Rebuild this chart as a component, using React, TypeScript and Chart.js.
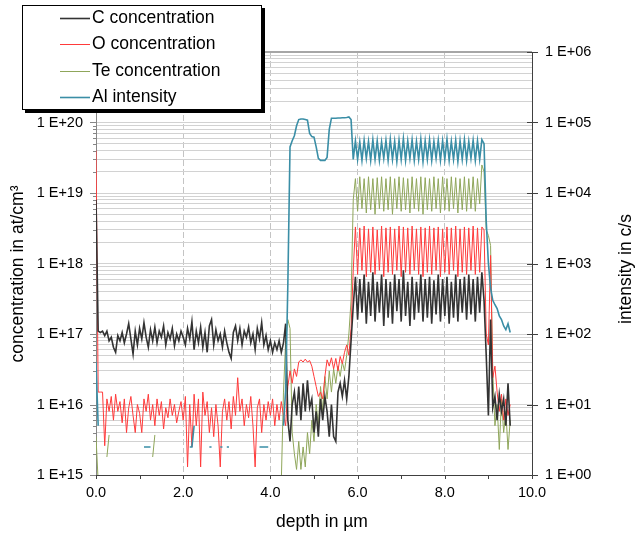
import React, { useEffect, useRef } from "react";
import { Chart, registerables } from "chart.js";

Chart.register(...registerables);

const FONT = "'Liberation Sans', Arial, Helvetica, sans-serif";

// depth in µm
const DEPTH = [
  0, 0.05, 0.1, 0.15, 0.2, 0.25, 0.3, 0.35, 0.4, 0.45,
  0.5, 0.55, 0.6, 0.65, 0.7, 0.75, 0.8, 0.85, 0.9, 0.95,
  1.0, 1.05, 1.1, 1.15, 1.2, 1.25, 1.3, 1.35, 1.4, 1.45,
  1.5, 1.55, 1.6, 1.65, 1.7, 1.75, 1.8, 1.85, 1.9, 1.95,
  2.0, 2.05, 2.1, 2.15, 2.2, 2.25, 2.3, 2.35, 2.4, 2.45,
  2.5, 2.55, 2.6, 2.65, 2.7, 2.75, 2.8, 2.85, 2.9, 2.95,
  3.0, 3.05, 3.1, 3.15, 3.2, 3.25, 3.3, 3.35, 3.4, 3.45,
  3.5, 3.55, 3.6, 3.65, 3.7, 3.75, 3.8, 3.85, 3.9, 3.95,
  4.0, 4.05, 4.1, 4.15, 4.2, 4.25, 4.3, 4.35, 4.4, 4.45,
  4.5, 4.55, 4.6, 4.65, 4.7, 4.75, 4.8, 4.85, 4.9, 4.95,
  5.0, 5.05, 5.1, 5.15, 5.2, 5.25, 5.3, 5.35, 5.4, 5.45,
  5.5, 5.55, 5.6, 5.65, 5.7, 5.75, 5.8, 5.85, 5.9, 5.95,
  6.0, 6.05, 6.1, 6.15, 6.2, 6.25, 6.3, 6.35, 6.4, 6.45,
  6.5, 6.55, 6.6, 6.65, 6.7, 6.75, 6.8, 6.85, 6.9, 6.95,
  7.0, 7.05, 7.1, 7.15, 7.2, 7.25, 7.3, 7.35, 7.4, 7.45,
  7.5, 7.55, 7.6, 7.65, 7.7, 7.75, 7.8, 7.85, 7.9, 7.95,
  8.0, 8.05, 8.1, 8.15, 8.2, 8.25, 8.3, 8.35, 8.4, 8.45,
  8.5, 8.55, 8.6, 8.65, 8.7, 8.75, 8.8, 8.85, 8.9, 8.95,
  9.0, 9.05, 9.1, 9.15, 9.2, 9.25, 9.3, 9.35, 9.4, 9.45,
  9.5,
];

// C concentration (at/cm³)
const C_CONC = [
  8e18, 1.1e17, 1.05e17, 1.1e17, 9.5e16, 1.1e17, 8.0e16, 9.0e16, 6.5e16, 5.5e16,
  9.5e16, 8.0e16, 1.05e17, 7.5e16, 1.0e17, 1.4e17, 8.5e16, 5.2e16, 1.1e17, 7.0e16,
  1.2e17, 8.5e16, 1.45e17, 9.0e16, 6.5e16, 1.15e17, 8.0e16, 1.25e17, 7.5e16, 1.1e17,
  9.0e16, 1.3e17, 7.0e16, 1.05e17, 8.5e16, 1.2e17, 6.8e16, 1.0e17, 8.0e16, 1.1e17,
  9.0e16, 7.0e16, 1.2e17, 8.5e16, 1.5e17, 6.0e16, 1.1e17, 7.5e16, 1.25e17, 6.5e16,
  1.05e17, 5.5e16, 1.3e17, 1.6e17, 7.0e16, 1.15e17, 8.0e16, 1.0e17, 6.5e16, 1.1e17,
  7.5e16, 5.5e16, 4.5e16, 1.05e17, 1.3e17, 8.0e16, 1.2e17, 7.0e16, 1.1e17, 9.0e16,
  1.25e17, 7.5e16, 1.0e17, 6.0e16, 1.2e17, 8.5e16, 1.45e17, 7.0e16, 9.5e16, 6.0e16,
  8.0e16, 5.5e16, 7.5e16, 6.0e16, 8.0e16, 5.5e16, 7.5e16, 1.4e17, 6e15, 3e15,
  1e16, 1.5e16, 7e15, 1.8e16, 6e15, 2e16, 8e15, 2.2e16, 9e15, 1.2e16,
  4e15, 8e15, 3.5e15, 1.2e16, 6e15, 1.3e16, 8e15, 3.5e15, 1e16, 3.5e15,
  3e15, 1.5e16, 2e16, 1.3e16, 2.2e16, 1.2e16, 2.5e16, 8e16, 2.5e17, 6.5e17,
  1.6e17, 6.0e17, 2.0e17, 7.0e17, 1.4e17, 5.5e17, 1.8e17, 7.5e17, 1.5e17, 5.5e17,
  2.0e17, 7.0e17, 1.3e17, 6.0e17, 1.7e17, 5.5e17, 1.4e17, 7.0e17, 2.1e17, 6.0e17,
  1.5e17, 8.0e17, 1.8e17, 5.5e17, 1.3e17, 6.5e17, 1.6e17, 5.5e17, 2.0e17, 7.0e17,
  1.5e17, 6.0e17, 1.7e17, 6.5e17, 1.4e17, 5.8e17, 1.9e17, 7.0e17, 1.5e17, 6.0e17,
  1.8e17, 6.5e17, 1.4e17, 5.5e17, 1.7e17, 7.0e17, 1.5e17, 6.0e17, 2.0e17, 6.5e17,
  1.6e17, 7.0e17, 1.9e17, 6.0e17, 1.5e17, 6.5e17, 2.0e17, 7.5e17, 3.0e17, 5e16,
  7e15, 1.6e17, 9e15, 1.3e16, 6e15, 1.4e16, 8e15, 1.2e16, 5e15, 2e16,
  5e15,
];

// O concentration (at/cm³)
const O_CONC = [
  4e19, 1.5e16, 1.5e16, 1.5e16, 2.6e15, 1.2e16, 8e15, 1.3e16, 6e15, 1.4e16,
  8e15, 1.1e16, 5.5e15, 1.2e16, 4e15, 9e15, 1.3e16, 7e15, 4e15, 1.0e16,
  7.5e15, 4e15, 1.2e16, 8e15, 1.4e16, 6e15, 1.0e16, 5e15, 1.2e16, 7e15,
  1.1e16, 4.5e15, 9e15, 6.5e15, 1.2e16, 7e15, 1.0e16, 5.5e15, 8e15, 1.1e16,
  6e15, 1.3e16, 1.3e15, 1.0e16, 2.5e15, 1.4e16, 5e15, 1.2e16, 1.3e15, 1.5e16,
  7e15, 1.1e16, 4e15, 9e15, 3.5e15, 1.0e16, 5e15, 1.3e15, 8e15, 1.2e16,
  6e15, 1.1e16, 4.5e15, 1.3e16, 7e15, 2.4e16, 8e15, 1.2e16, 5e15, 1.0e16,
  6.5e15, 1.3e16, 5e15, 1.3e15, 9e15, 1.2e16, 4e15, 1.0e16, 6e15, 1.1e16,
  7e15, 1.2e16, 5e15, 1.0e16, 6e15, 1.1e16, 7e15, 5e15, 1.8e16, 3e16,
  2e16, 3.2e16, 2.5e16, 4e16, 4.3e16, 4.0e16, 4.4e16, 4.0e16, 4.2e16, 3.5e16,
  2.5e16, 1.8e16, 1.3e16, 1.5e16, 1.2e16, 2.5e16, 4.3e16, 3.5e16, 4.6e16, 3.2e16,
  4.5e16, 3.0e16, 4.8e16, 3.8e16, 5.5e16, 7e16, 5e16, 1.2e17, 8e17, 3.3e18,
  7e17, 3.2e18, 8e17, 3.4e18, 6.5e17, 3.1e18, 7.5e17, 3.3e18, 7e17, 3.0e18,
  8e17, 3.4e18, 6.5e17, 3.2e18, 7.5e17, 3.3e18, 7e17, 3.1e18, 8e17, 3.4e18,
  6.5e17, 3.3e18, 7.5e17, 3.2e18, 7e17, 3.4e18, 8e17, 3.1e18, 7e17, 3.3e18,
  6.5e17, 3.2e18, 7.5e17, 3.4e18, 7e17, 3.2e18, 8e17, 3.3e18, 6.5e17, 3.1e18,
  7.5e17, 3.3e18, 7e17, 3.2e18, 8e17, 3.4e18, 6.5e17, 3.1e18, 7.5e17, 3.3e18,
  7e17, 3.2e18, 8e17, 3.4e18, 7e17, 3.2e18, 7.5e17, 3.3e18, 3.0e18, 1e17,
  7e16, 1.3e18, 2.4e16, 3.5e16, 1.5e16, 8e15, 1.4e16, 6e15, 1.2e16, 7e15,
  1.0e16,
];

// Te concentration (at/cm³); null = no signal
const TE_CONC = [
  3.5e15, 8e14, null, null, null, 1.8e15, 3.7e15, null, null, null,
  null, null, null, null, null, null, null, null, null, null,
  null, null, null, null, null, null, 1.8e15, 3.7e15, null, null,
  null, null, null, null, null, null, null, null, null, null,
  null, null, null, null, null, null, null, null, null, null,
  null, null, null, null, null, null, null, null, null, null,
  null, null, null, null, null, null, null, null, null, null,
  null, null, null, null, null, null, null, null, null, null,
  null, null, null, null, null, 8e14, 1.5e16, 8e16, 1.6e17, 1.2e17,
  4e15, 2e15, 1.2e15, 3e15, 1.2e15, 2.5e15, 1.3e15, 4e15, 2e15, 6e15,
  3e15, 1e16, 5e15, 1.8e16, 8e15, 2.5e16, 1.2e16, 3e16, 1.5e16, 3.2e16,
  2e16, 3.5e16, 2.5e16, 4e16, 3e16, 5e16, 1e17, 3e17, 8e18, 1.6e19,
  5.5e18, 1.7e19, 6e18, 1.6e19, 5.2e18, 1.7e19, 5.8e18, 1.6e19, 5.0e18, 1.65e19,
  6e18, 1.7e19, 5.5e18, 1.6e19, 5.8e18, 1.7e19, 5.0e18, 1.6e19, 6e18, 1.7e19,
  5.5e18, 1.65e19, 5.8e18, 1.6e19, 5.2e18, 1.7e19, 6e18, 1.6e19, 5.5e18, 1.7e19,
  5.0e18, 1.65e19, 5.8e18, 1.6e19, 5.5e18, 1.7e19, 6e18, 1.6e19, 5.2e18, 1.7e19,
  5.8e18, 1.6e19, 5.5e18, 1.7e19, 6e18, 1.65e19, 5.2e18, 1.6e19, 5.8e18, 1.7e19,
  5.5e18, 1.6e19, 6e18, 1.7e19, 5.5e18, 1.6e19, 7e18, 2.5e19, 2.0e19, 3e18,
  2.5e18, 1.8e18, 3e16, 5e15, 1.0e16, 2.3e15, 1.2e16, 4e15, 8e15, 2.3e15,
  6e15,
];

// Al intensity (c/s); null = no signal
const AL_INT = [
  40, 5, null, null, null, null, null, null, null, null,
  null, null, null, null, null, null, null, null, null, null,
  null, null, 2.5, 2.5, 2.5, 2.5, null, null, null, null,
  null, null, null, null, null, null, null, null, null, null,
  null, null, null, 2.5, 2.5, 5, null, null, null, null,
  null, null, 2.5, 2.5, null, null, null, 2.5, 2.5, null,
  2.5, 2.5, null, null, null, null, null, null, null, null,
  null, null, null, null, null, 2.5, 2.5, 2.5, 2.5, 2.5,
  null, null, null, null, null, null, 5, 16, 500, 4.5e4,
  5.5e4, 6.5e4, 9e4, 1.1e5, 1.12e5, 1.12e5, 1.1e5, 1.08e5, 7e4, 6.3e4,
  6.2e4, 4.5e4, 3.1e4, 2.9e4, 2.9e4, 2.9e4, 3.2e4, 8e4, 1.15e5, 1.15e5,
  1.15e5, 1.16e5, 1.16e5, 1.17e5, 1.17e5, 1.18e5, 1.2e5, 1.1e5, 3.0e4, 5.5e4,
  3.0e4, 5.3e4, 2.9e4, 5.6e4, 3.1e4, 5.4e4, 2.9e4, 5.7e4, 3.0e4, 5.5e4,
  2.9e4, 5.3e4, 3.1e4, 5.6e4, 2.9e4, 5.8e4, 3.0e4, 5.4e4, 2.8e4, 5.6e4,
  3.0e4, 5.9e4, 2.9e4, 5.5e4, 3.1e4, 5.7e4, 2.9e4, 5.4e4, 3.0e4, 5.8e4,
  2.8e4, 5.5e4, 3.0e4, 5.7e4, 2.9e4, 5.4e4, 3.1e4, 5.6e4, 2.9e4, 5.5e4,
  3.0e4, 5.8e4, 2.9e4, 5.4e4, 3.0e4, 5.6e4, 2.8e4, 5.5e4, 3.0e4, 5.7e4,
  2.9e4, 5.4e4, 3.1e4, 5.6e4, 2.9e4, 5.5e4, 3.0e4, 5.7e4, 5.0e4, 4e3,
  1.0e3, 450, 300, 260, 230, 180, 160, 130, 115, 140,
  105,
];

const SERIES_LABELS = ["C concentration", "O concentration", "Te concentration", "Al intensity"];
const SERIES_COLORS = ["#333333", "#ff3a3a", "#8fa65a", "#3a8ea6"];
const SERIES_WIDTHS = [1.6, 1, 1, 1.6];

const LEFT_DECADES = [15, 16, 17, 18, 19, 20, 21];
const LEFT_TICK_LABELS = ["1 E+15", "1 E+16", "1 E+17", "1 E+18", "1 E+19", "1 E+20", "1 E+21"];
const RIGHT_DECADES = [0, 1, 2, 3, 4, 5, 6];
const RIGHT_TICK_LABELS = ["1 E+00", "1 E+01", "1 E+02", "1 E+03", "1 E+04", "1 E+05", "1 E+06"];
const X_TICK_LABELS = ["0.0", "", "2.0", "", "4.0", "", "6.0", "", "8.0", "", "10.0"];
const MINOR_MULTIPLES = [1, 2, 3, 4, 5, 6, 7, 8, 9];

const X_TITLE = "depth in µm";
const Y_TITLE = "concentration in at/cm³";
const Y2_TITLE = "intensity in c/s";

function isDecade(v: number) {
  const l = Math.log10(v);
  return Math.abs(l - Math.round(l)) < 1e-9;
}

const leftTickValues: number[] = [];
LEFT_DECADES.forEach((e, i) => {
  if (i === LEFT_DECADES.length - 1) {
    leftTickValues.push(Math.pow(10, e));
  } else {
    MINOR_MULTIPLES.forEach((m) => leftTickValues.push(m * Math.pow(10, e)));
  }
});

const decorPlugin = {
  id: "decor",
  afterDraw(chart: any) {
    const { ctx, chartArea, scales } = chart;
    const yL = scales.y;
    const yR = scales.y2;
    const xS = scales.x;
    ctx.save();
    ctx.lineWidth = 1;
    // left ticks
    ctx.strokeStyle = "#868686";
    for (const v of leftTickValues) {
      const py = Math.round(yL.getPixelForValue(v)) + 0.5;
      const len = isDecade(v) ? 6 : 3;
      ctx.beginPath();
      ctx.moveTo(chartArea.left - len, py);
      ctx.lineTo(chartArea.left, py);
      ctx.stroke();
    }
    // right ticks
    ctx.strokeStyle = "#404040";
    for (const e of RIGHT_DECADES) {
      const py = Math.round(yR.getPixelForValue(Math.pow(10, e))) + 0.5;
      ctx.beginPath();
      ctx.moveTo(chartArea.right - 5, py);
      ctx.lineTo(chartArea.right + 6, py);
      ctx.stroke();
    }
    // x ticks
    for (let i = 0; i < X_TICK_LABELS.length; i++) {
      const px = Math.round(xS.getPixelForValue(i)) + 0.5;
      ctx.beginPath();
      ctx.moveTo(px, chartArea.bottom);
      ctx.lineTo(px, chartArea.bottom + 4);
      ctx.stroke();
    }
    // axis titles
    ctx.fillStyle = "#000";
    ctx.font = `17.5px ${FONT}`;
    ctx.textAlign = "center";
    ctx.textBaseline = "middle";
    ctx.fillText(X_TITLE, 322, 522);
    ctx.save();
    ctx.translate(18.5, 274);
    ctx.rotate(-Math.PI / 2);
    ctx.fillText(Y_TITLE, 0, 0);
    ctx.restore();
    ctx.save();
    ctx.translate(626, 269);
    ctx.rotate(-Math.PI / 2);
    ctx.fillText(Y2_TITLE, 0, 0);
    ctx.restore();
    // legend
    const bx = 22, by = 5, bw = 240, bh = 105;
    ctx.fillStyle = "#000";
    ctx.fillRect(bx + 3, by + 3, bw, bh);
    ctx.fillStyle = "#fff";
    ctx.fillRect(bx, by, bw, bh);
    ctx.strokeStyle = "#000";
    ctx.strokeRect(bx + 0.5, by + 0.5, bw - 1, bh - 1);
    const rows = [17.7, 44, 70.7, 96.7];
    ctx.textAlign = "left";
    chart.data.datasets.forEach((ds: any, i: number) => {
      const ry = Math.round(rows[i]) + 0.5;
      ctx.strokeStyle = ds.borderColor;
      ctx.lineWidth = ds.borderWidth;
      ctx.beginPath();
      ctx.moveTo(60, ry);
      ctx.lineTo(90, ry);
      ctx.stroke();
      ctx.fillStyle = "#000";
      ctx.fillText(ds.label, 92, rows[i] + 0.5);
    });
    ctx.restore();
  },
};

export default function App() {
  const ref = useRef<HTMLCanvasElement | null>(null);
  useEffect(() => {
    if (!ref.current) return;
    const mk = (arr: (number | null)[]) => DEPTH.map((d, i) => ({ x: d, y: arr[i] }));
    const seriesData = [C_CONC, O_CONC, TE_CONC, AL_INT];
    const orders = [1, 2, 3, 0];
    const datasets = SERIES_LABELS.map((label, i) => ({
      label,
      data: mk(seriesData[i]),
      borderColor: SERIES_COLORS[i],
      backgroundColor: SERIES_COLORS[i],
      borderWidth: SERIES_WIDTHS[i],
      pointRadius: 0,
      tension: 0,
      spanGaps: false,
      order: orders[i],
      yAxisID: i === 3 ? "y2" : "y",
    }));
    const tickFont = { family: FONT, size: 14.5 };
    const chart = new Chart(ref.current, {
      type: "line",
      data: { datasets } as any,
      plugins: [decorPlugin],
      options: {
        animation: false,
        responsive: true,
        maintainAspectRatio: false,
        devicePixelRatio: 1,
        events: [],
        layout: { padding: { top: 52, left: 0, right: 0, bottom: 0 } },
        plugins: { legend: { display: false }, tooltip: { enabled: false }, title: { display: false } },
        scales: {
          x: {
            type: "linear",
            min: 0,
            max: 10,
            position: "bottom",
            afterFit: (s: any) => { s.height = 59; },
            ticks: {
              stepSize: 1,
              autoSkip: false,
              maxRotation: 0,
              padding: 9,
              color: "#000",
              font: tickFont,
              callback: (v: any) => X_TICK_LABELS[Math.round(Number(v))] ?? "",
            },
            grid: {
              drawTicks: false,
              color: (c: any) => {
                const v = c.tick ? Math.round(c.tick.value) : -1;
                return v === 2 || v === 4 || v === 6 || v === 8 ? "#c4c4c4" : "rgba(0,0,0,0)";
              },
              lineWidth: 1,
            },
            border: { color: "#404040", width: 1, dash: [6, 3] },
          },
          y: {
            type: "logarithmic",
            min: 1e15,
            max: 1e21,
            position: "left",
            afterFit: (s: any) => { s.width = 96; },
            afterBuildTicks: (s: any) => { s.ticks = leftTickValues.map((v) => ({ value: v })); },
            ticks: {
              autoSkip: false,
              padding: 13,
              color: "#000",
              font: tickFont,
              callback: (v: any) => {
                const n = Number(v);
                if (!isDecade(n)) return "";
                const idx = LEFT_DECADES.indexOf(Math.round(Math.log10(n)));
                return idx >= 0 ? LEFT_TICK_LABELS[idx] : "";
              },
            },
            grid: {
              drawTicks: false,
              color: (c: any) => (c.tick && Math.abs(c.tick.value - 1e21) < 1e10 ? "#a6a6a6" : "#d2d2d2"),
              lineWidth: (c: any) => (c.tick && Math.abs(c.tick.value - 1e21) < 1e10 ? 2 : 1),
            },
            border: { color: "#868686", width: 1 },
          },
          y2: {
            type: "logarithmic",
            min: 1,
            max: 1e6,
            position: "right",
            afterFit: (s: any) => { s.width = 103; },
            afterBuildTicks: (s: any) => { s.ticks = RIGHT_DECADES.map((e) => ({ value: Math.pow(10, e) })); },
            ticks: {
              autoSkip: false,
              padding: 13,
              color: "#000",
              font: tickFont,
              callback: (v: any) => {
                const idx = RIGHT_DECADES.indexOf(Math.round(Math.log10(Number(v))));
                return idx >= 0 ? RIGHT_TICK_LABELS[idx] : "";
              },
            },
            grid: { drawOnChartArea: false, drawTicks: false },
            border: { color: "#404040", width: 1 },
          },
        },
      } as any,
    });
    return () => chart.destroy();
  }, []);
  return (
    <div style={{ position: "absolute", left: 0, top: 0, width: 635, height: 534, background: "#fff" }}>
      <canvas ref={ref} style={{ display: "block" }} />
    </div>
  );
}
